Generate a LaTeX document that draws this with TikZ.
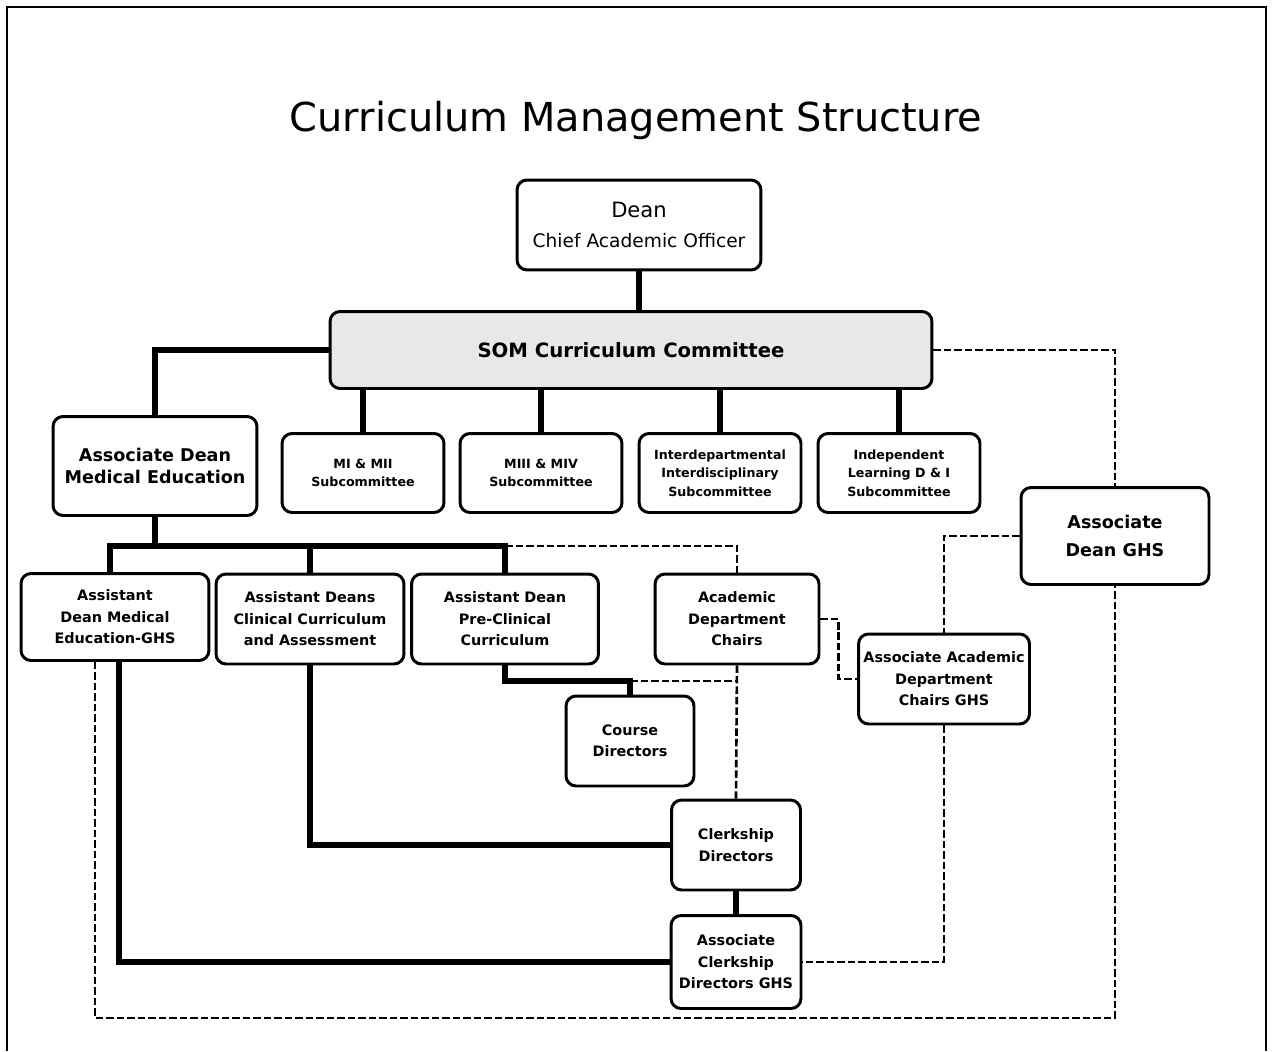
\documentclass[tikz,border=0pt]{standalone}
\usepackage{fontspec}
\setmainfont{DejaVu Sans}
\usepackage{tikz}
\usetikzlibrary{calc,positioning}

\tikzset{
  box/.style={draw, line width=1.7pt, rounded corners=0.2cm, align=center,
    inner sep=1pt, fill=white},
  bigtxt/.style={font=\bfseries\fontsize{10}{13}\selectfont},
  midtxt/.style={font=\bfseries\fontsize{8.2}{12.2}\selectfont},
  smalltxt/.style={font=\bfseries\fontsize{7.2}{10.5}\selectfont},
  link/.style={line width=3.4pt},
  dlink/.style={line width=1.5pt, dash pattern=on 0.15cm off 0.06cm},
  tdlink/.style={line width=0.7pt, dash pattern=on 0.15cm off 0.06cm},
}

\begin{document}
\begin{tikzpicture}[x=0.02cm,y=-0.02cm]
	\useasboundingbox (0,0) rectangle (1274,1051);
	% Outer frame
	\draw[line width=1.6pt] (7,1051) |- (1266,7) -- (1266,1051);
	\node[font=\fontsize{22.7}{26}\selectfont] (title) at (636,120) {Curriculum Management Structure};
	% Top of the chart
	\node[box, minimum width=4.88cm, minimum height=1.8cm] (dean) at (639,225)
	{{\fontsize{12}{16}\selectfont Dean}\\[5pt]{\fontsize{10.6}{13}\selectfont Chief Academic Officer}};
	\node[box, font=\bfseries\fontsize{11.2}{14}\selectfont, fill=gray!18, minimum width=12.04cm, minimum height=1.54cm] (som) at (631,350)
	{SOM Curriculum Committee};
	\node[box, bigtxt, minimum width=4.08cm, minimum height=1.98cm] (adme) at (155,466)
	{Associate Dean\\Medical Education};
	% Subcommittees
	\node[box, smalltxt, minimum width=3.24cm, minimum height=1.58cm] (sub1) at (363,473)
	{MI \& MII\\Subcommittee};
	\node[box, smalltxt, minimum width=3.24cm, minimum height=1.58cm] (sub2) at (541,473)
	{MIII \& MIV\\Subcommittee};
	\node[box, smalltxt, minimum width=3.24cm, minimum height=1.58cm] (sub3) at (720,473)
	{Interdepartmental\\Interdisciplinary\\Subcommittee};
	\node[box, smalltxt, minimum width=3.24cm, minimum height=1.58cm] (sub4) at (899,473)
	{Independent\\Learning D \& I\\Subcommittee};
	\node[box, bigtxt, minimum width=3.76cm, minimum height=1.94cm] (adghs) at (1115,536)
	{Associate\\[3pt]Dean GHS};
	% Assistant deans and chairs
	\node[box, midtxt, minimum width=3.76cm, minimum height=1.74cm] (asstghs) at (115,617)
	{Assistant\\Dean Medical\\Education-GHS};
	\node[box, midtxt, minimum width=3.76cm, minimum height=1.8cm] (asstclin) at (310,619)
	{Assistant Deans\\Clinical Curriculum\\and Assessment};
	\node[box, midtxt, minimum width=3.74cm, minimum height=1.8cm] (asstpre) at (505,619)
	{Assistant Dean\\Pre-Clinical\\Curriculum};
	\node[box, midtxt, minimum width=3.28cm, minimum height=1.8cm] (acadch) at (737,619)
	{Academic\\Department\\Chairs};
	\node[box, midtxt, minimum width=3.42cm, minimum height=1.8cm] (assocacad) at (944,679)
	{Associate Academic\\Department\\Chairs GHS};
	\node[box, midtxt, minimum width=2.56cm, minimum height=1.8cm] (course) at (630,741)
	{Course\\Directors};
	\node[box, midtxt, minimum width=2.58cm, minimum height=1.8cm] (clerk) at (736,845)
	{Clerkship\\Directors};
	\node[box, midtxt, minimum width=2.6cm, minimum height=1.86cm] (assocclerk) at (736,962)
	{Associate\\Clerkship\\Directors GHS};
	% Helper points
	\coordinate (busL) at (110,546);
	\coordinate (busR) at (505,546);
	\coordinate (cbus) at (630,681);
	\coordinate (loopB) at (600,1018);
	% Solid lines
	\draw[link] (dean.south) -- (dean.south |- som.north);
	\draw[link] (som.west) -| (adme.north);
	\foreach \s in {sub1,sub2,sub3,sub4}
		\draw[link] (\s.north) -- (\s.north |- som.south);
	\draw[link] (adme.south) -- (adme.south |- busL);
	\draw[link] (busL |- asstghs.north) -- (busL) -- (busR) -- (asstpre.north);
	\draw[link] (asstclin.north) -- (asstclin.north |- busL);
	\draw[link] (asstpre.south) |- (cbus) -- (course.north);
	\draw[link] (asstclin.south) |- (clerk.west);
	\draw[link] (clerk) -- (assocclerk);
	\draw[link] ([xshift=0.08cm]asstghs.south) |- (assocclerk.west);
	% Dashed lines
	\draw[dlink] (busR) -| (acadch.north);
	\draw[dlink] (acadch.east) -- ++(18,0) |- (assocacad.west);
	\draw[dlink] (som.east) -| (adghs.north);
	\draw[dlink] (adghs.west) -| (assocacad.north);
	\draw[dlink] (assocacad.south) |- (assocclerk.east);
	\draw[dlink] (cbus) -- (cbus -| acadch.south);
	\draw[dlink] (acadch.south) -- (clerk.north);
	\draw[tdlink] ([xshift=-0.4cm]asstghs.south) |- (loopB) -| (adghs.south);
\end{tikzpicture}
\end{document}
